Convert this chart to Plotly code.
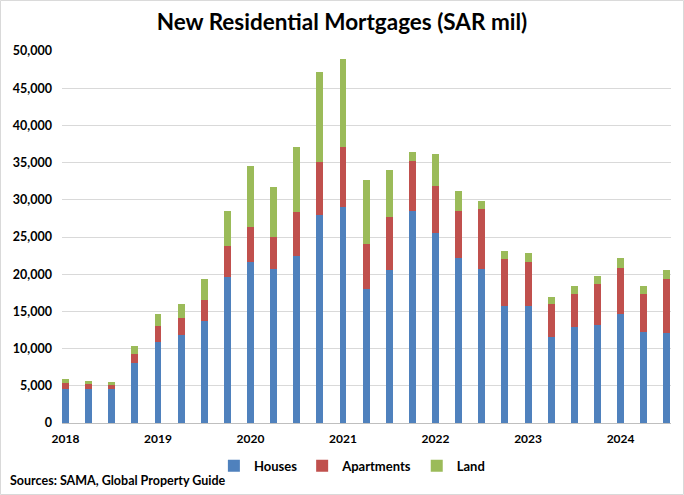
import plotly.graph_objects as go

quarters = ["2018 Q1","2018 Q2","2018 Q3","2018 Q4",
            "2019 Q1","2019 Q2","2019 Q3","2019 Q4",
            "2020 Q1","2020 Q2","2020 Q3","2020 Q4",
            "2021 Q1","2021 Q2","2021 Q3","2021 Q4",
            "2022 Q1","2022 Q2","2022 Q3","2022 Q4",
            "2023 Q1","2023 Q2","2023 Q3","2023 Q4",
            "2024 Q1","2024 Q2","2024 Q3"]

# cumulative tops (SAR mil)
houses_top = [4600, 4600, 4600, 8000, 10900, 11800, 13700, 19600,
              21700, 20700, 22500, 28000, 29000, 17950, 20600, 28500,
              25500, 22150, 20700, 15700, 15700, 11600, 12900, 13150,
              14600, 12200, 12100]
apts_top = [5400, 5300, 5150, 9300, 13100, 14100, 16600, 23800,
            26400, 25000, 28400, 35100, 37100, 24100, 27700, 35200,
            31900, 28550, 28800, 22000, 21600, 15950, 17400, 18650,
            20800, 17400, 19300]
land_top = [5950, 5700, 5550, 10400, 14700, 16000, 19400, 28500,
            34600, 31700, 37100, 47200, 48900, 32700, 34000, 36400,
            36200, 31150, 29850, 23100, 22800, 16900, 18400, 19700,
            22200, 18400, 20500]

houses = houses_top
apartments = [a - h for a, h in zip(apts_top, houses_top)]
land = [l - a for l, a in zip(land_top, apts_top)]

year_labels = ["2018", "2019", "2020", "2021", "2022", "2023", "2024"]
y_ticks = [0, 5000, 10000, 15000, 20000, 25000, 30000, 35000, 40000, 45000, 50000]

x = list(range(len(quarters)))
font = "Lato"

fig = go.Figure()
for name, vals, col in [("Houses", houses, "#4F81BD"),
                        ("Apartments", apartments, "#C0504D"),
                        ("Land", land, "#9BBB59")]:
    fig.add_trace(go.Bar(x=x, y=vals, name="<b>%s</b>" % name, marker_color=col,
                         marker_line_width=0, width=0.3,
                         customdata=quarters,
                         hovertemplate="%{customdata}: %{y}<extra>" + name + "</extra>"))

fig.update_layout(
    barmode="stack",
    width=684, height=495,
    margin=dict(l=62, r=13, t=51, b=72),
    paper_bgcolor="white", plot_bgcolor="white",
    font=dict(family=font, size=12, color="black"),
    title=dict(text="<b>New Residential Mortgages (SAR mil)</b>",
               x=0.5, xanchor="center", y=0.955, yanchor="middle",
               font=dict(family=font, size=22.5, color="black")),
    xaxis=dict(range=[-0.15, 26.18], tickvals=[0, 4, 8, 12, 16, 20, 24],
               ticktext=["<b>%s</b>" % t for t in year_labels],
               showgrid=False, showline=True, linecolor="#bfbfbf", linewidth=1,
               ticks="", tickfont=dict(size=12), ticklabelstandoff=5),
    yaxis=dict(range=[0, 50000], tickvals=y_ticks,
               ticktext=["<b>%s</b>" % ("{:,}".format(v)) for v in y_ticks],
               showgrid=True, gridcolor="#d9d9d9", gridwidth=1,
               zeroline=False, showline=False, ticks="", ticklen=0,
               tickfont=dict(size=12.5), ticklabelstandoff=9),
    legend=dict(orientation="h", x=0.476, xanchor="center", y=-0.115, yanchor="middle",
                font=dict(size=13), traceorder="normal", itemwidth=30,
                itemclick=False),
    showlegend=True,
    annotations=[dict(text="<b>Sources: SAMA, Global Property Guide</b>",
                      xref="paper", yref="paper", x=-0.088, y=-0.154,
                      xanchor="left", yanchor="middle", showarrow=False,
                      font=dict(size=12.5))],
    shapes=[dict(type="rect", xref="paper", yref="paper",
                 x0=-0.101, x1=1.0205, y0=-0.1922, y1=1.1358,
                 line=dict(color="#d9d9d9", width=1))],
)

fig.write_html("out.html")
